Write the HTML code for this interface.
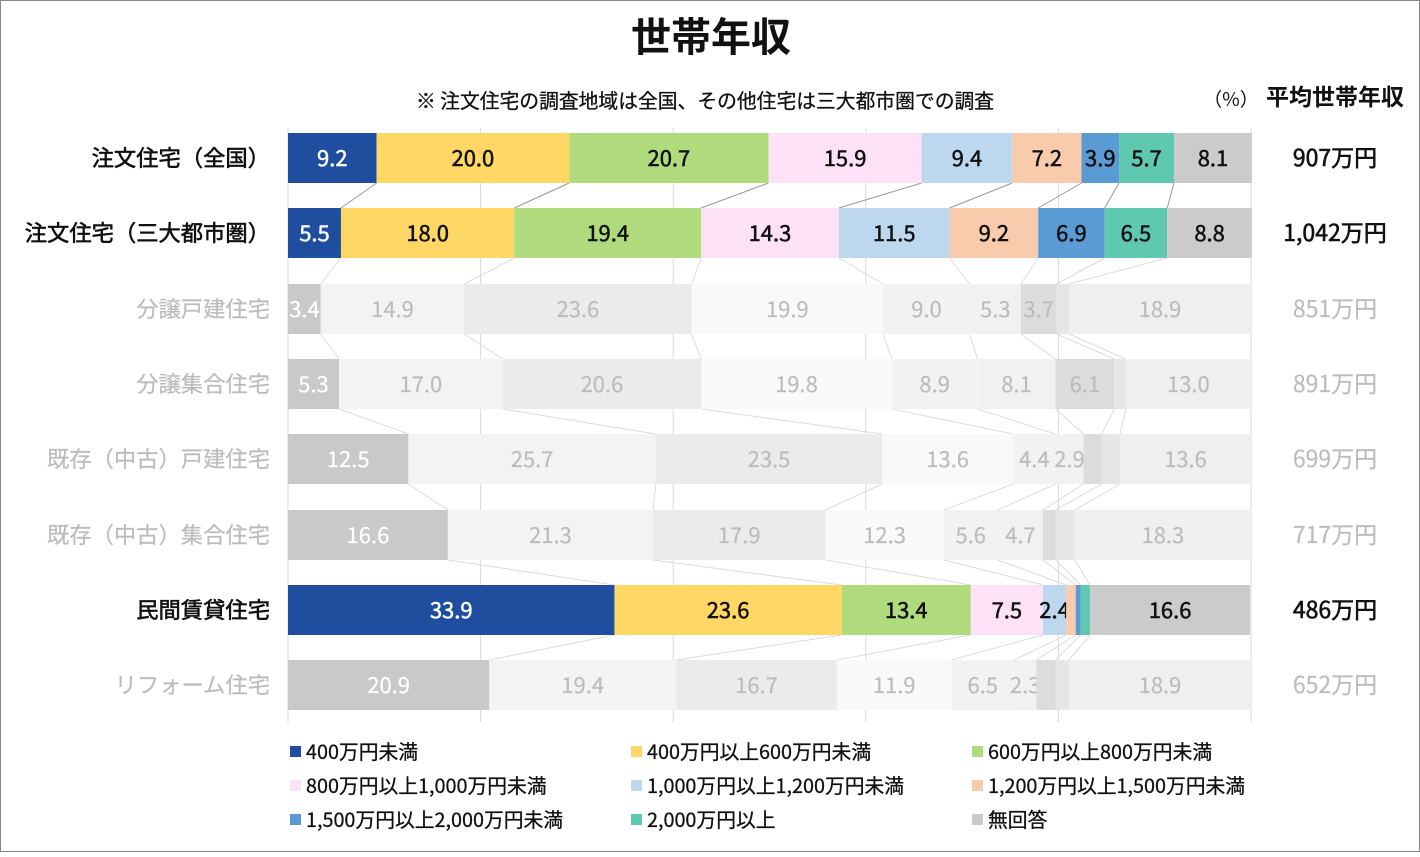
<!DOCTYPE html>
<html><head><meta charset="utf-8">
<style>
body{margin:0;background:#fff;}
svg text{font-family:"Noto Sans CJK JP","Liberation Sans",sans-serif;}
</style></head>
<body>
<svg id="s" width="1420" height="852" xmlns="http://www.w3.org/2000/svg">
<rect x="0.5" y="0.5" width="1419" height="851" fill="#fff" stroke="#888"/>
<text x="711" y="51" font-size="40" font-weight="bold" text-anchor="middle" fill="#111">世帯年収</text>
<text x="705" y="108" font-size="19.8" text-anchor="middle" fill="#111" stroke="#111" stroke-width="0.3">※ 注文住宅の調査地域は全国、その他住宅は三大都市圏での調査</text>
<text x="1231" y="106" font-size="19" text-anchor="middle" fill="#111">（%）</text>
<text x="1335" y="105" font-size="23" font-weight="bold" text-anchor="middle" fill="#111">平均世帯年収</text>
<g id="g"></g>
</svg>
<script>
const rows=[
["注文住宅（全国）",[9.2,20.0,20.7,15.9,9.4,7.2,3.9,5.7,8.1],"907万円",1],
["注文住宅（三大都市圏）",[5.5,18.0,19.4,14.3,11.5,9.2,6.9,6.5,8.8],"1,042万円",1],
["分譲戸建住宅",[3.4,14.9,23.6,19.9,9.0,5.3,3.7,1.3,18.9],"851万円",0],
["分譲集合住宅",[5.3,17.0,20.6,19.8,8.9,8.1,6.1,1.2,13.0],"891万円",0],
["既存（中古）戸建住宅",[12.5,25.7,23.5,13.6,4.4,2.9,1.9,1.9,13.6],"699万円",0],
["既存（中古）集合住宅",[16.6,21.3,17.9,12.3,5.6,4.7,1.3,2.0,18.3],"717万円",0],
["民間賃貸住宅",[33.9,23.6,13.4,7.5,2.4,1.0,0.5,1.0,16.6],"486万円",1],
["リフォーム住宅",[20.9,19.4,16.7,11.9,6.5,2.3,2.0,1.4,18.9],"652万円",0]];
const col=["#1f4e9f","#fed764","#b0db7d","#fce1f7","#bdd7ee","#f8cbad","#5b9bd5","#5ec8b0","#cbcbcb"];
const fcol=["#c9c9c9","#f3f3f3","#ebebeb","#f9f9f9","#f2f2f2","#f1f1f1","#dcdcdc","#e6e6e6","#efefef"];
const X0=288,W=963,H=50,tops=[133,208,284,359,434,510,585,660];
let h="";
for(let i=0;i<=5;i++){const x=X0+W*i/5;h+=`<line x1="${x}" y1="128" x2="${x}" y2="722" stroke="#d9d9d9"/>`;}
function cum(v){let c=[0];v.forEach(a=>c.push(c[c.length-1]+a));return c.map(a=>X0+W*a/100);}
for(let r=0;r<rows.length-1;r++){const a=cum(rows[r][1]),b=cum(rows[r+1][1]);const dark=rows[r][3]&&rows[r+1][3];
for(let k=1;k<=8;k++)h+=`<line x1="${a[k]}" y1="${tops[r]+H}" x2="${b[k]}" y2="${tops[r+1]}" stroke="${dark?'#999':'#dcdcdc'}"/>`;}
rows.forEach((row,r)=>{const c=cum(row[1]);const t=tops[r],on=row[3];
row[1].forEach((v,k)=>{h+=`<rect x="${c[k]}" y="${t}" width="${c[k+1]-c[k]}" height="${H}" fill="${on?col[k]:fcol[k]}"/>`;
if(v>=2.2){const fc=on?(k==0?"#fff":"#111"):(k==0?"#fff":"#bcbcbc");
h+=`<text x="${(c[k]+c[k+1])/2}" y="${t+33}" font-size="22" text-anchor="middle" fill="${fc}" stroke="${fc}" stroke-width="${on?0.5:0.2}">${v.toFixed(1)}</text>`;}});
const tc=on?'#111':'#bcbcbc';
h+=`<text x="270" y="${t+33}" font-size="22.3" text-anchor="end" fill="${tc}" stroke="${tc}" stroke-width="${on?0.6:0.2}">${row[0]}</text>`;
h+=`<text x="1335" y="${t+33}" font-size="23" text-anchor="middle" fill="${tc}" stroke="${tc}" stroke-width="${on?0.6:0.2}">${row[2]}</text>`;});
const lg=["400万円未満","400万円以上600万円未満","600万円以上800万円未満","800万円以上1,000万円未満","1,000万円以上1,200万円未満","1,200万円以上1,500万円未満","1,500万円以上2,000万円未満","2,000万円以上","無回答"];
lg.forEach((s,i)=>{const x=[290,631,972][i%3],y=[752,786,820][Math.floor(i/3)];
h+=`<rect x="${x}" y="${y-6}" width="11" height="11" fill="${col[i]}"/><text x="${x+16}" y="${y+7}" font-size="19.8" fill="#111" stroke="#111" stroke-width="0.3">${s}</text>`;});
document.getElementById("g").innerHTML=h;
</script>
</body></html>
